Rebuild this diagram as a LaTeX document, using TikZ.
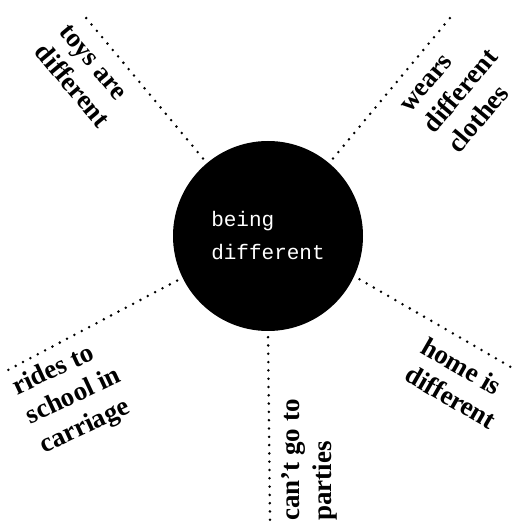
\documentclass[tikz,border=0pt]{standalone}
\usepackage{fontspec}
\setmainfont{Liberation Serif}
\newfontfamily\hubfont{Liberation Mono}
\usetikzlibrary{positioning}

\tikzset{
  hub/.style={circle, fill=black, minimum size=190pt, inner sep=0pt, text=white,
    align=left, font=\hubfont\fontsize{21}{33}\selectfont},
  spoke/.style={line width=2.8pt, line cap=round, dash pattern=on 0pt off 8.3pt, shorten <=6pt},
  leaf/.style={font=\bfseries\fontsize{27}{32}\selectfont, align=left, inner sep=0pt}
}

\begin{document}
\begin{tikzpicture}[x=1pt, y=1pt]
  \useasboundingbox (0,0) rectangle (518,523);

  % Centre
  \node[hub] (hub) at (268,287) {being\\different};

  % Free ends of the spokes
  \coordinate (toysend) at (82,510);
  \coordinate (wearsend) at (455,511);
  \coordinate (homeend) at (516,153);
  \coordinate (partyend) at (270,1);
  \coordinate (ridesend) at (8,153);

  % Spokes
  \draw[spoke] (hub.130) -- (toysend);
  \draw[spoke] (hub.50) -- (wearsend);
  \draw[spoke] (hub.-25) -- (homeend);
  \draw[spoke] (hub.-90) -- (partyend);
  \draw[spoke] (hub.206) -- (ridesend);

  % Labels
  \node[leaf, rotate=-50] (toys) at (84,447) {toys are\\different};
  \node[leaf, rotate=50] (wears) at (462,431) {wears\\different\\clothes};
  \node[leaf, rotate=25] (rides) at (74,126) {rides to\\school in\\carriage};
  \node[leaf, rotate=-30] (home) at (459,140) {home is\\different};
  \node[leaf, rotate=90] (parties) at (309,63) {can't go to\\parties};
\end{tikzpicture}
\end{document}
